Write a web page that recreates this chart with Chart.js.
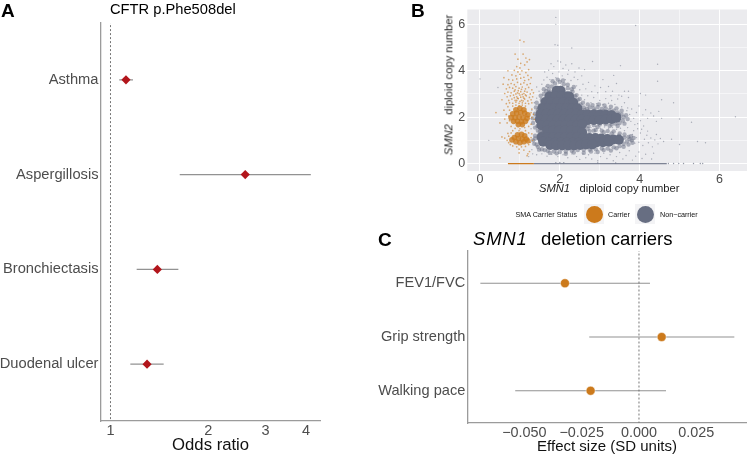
<!DOCTYPE html>
<html>
<head>
<meta charset="utf-8">
<title>CFTR and SMN1 panels</title>
<script src="https://cdn.jsdelivr.net/npm/chart.js@4"></script>
<style>
  html, body { margin: 0; padding: 0; background: #fff; }
  body { position: relative; width: 747px; height: 454px; overflow: hidden; font-family: "Liberation Sans", sans-serif; }
  canvas { position: absolute; }
  .txt { position: absolute; white-space: pre; line-height: 1; color: #000; }
  .panel { font-weight: bold; font-size: 19px; }
  .key { position: absolute; width: 20px; height: 20px; background: #f3f3f5; }
  .key i { position: absolute; left: 1.5px; top: 1.5px; width: 17px; height: 17px; border-radius: 50%; }
</style>
</head>
<body>
<canvas id="chartA" width="340" height="454" style="left:0;top:0"></canvas>
<canvas id="chartB" width="347" height="190" style="left:400px;top:0"></canvas>
<canvas id="chartC" width="377" height="226" style="left:370px;top:228px"></canvas>

<div class="txt panel" style="left:1px;top:1px">A</div>
<div class="txt" style="left:110px;top:1.5px;font-size:14.7px">CFTR p.Phe508del</div>
<div class="txt panel" style="left:411px;top:1px">B</div>
<div class="txt" style="left:539px;top:183px;font-size:11.2px;color:#222"><i>SMN1</i>   diploid copy number</div>
<div class="txt" style="left:449px;top:85px;font-size:11.2px;color:#222;transform:translate(-50%,-50%) rotate(-90deg)"><i>SMN2</i>   diploid copy number</div>
<div class="txt" style="left:515.5px;top:210.5px;font-size:7.2px;color:#111">SMA Carrier Status</div>
<div class="key" style="left:584px;top:204px"><i style="background:#cc7a1c"></i></div>
<div class="txt" style="left:608px;top:210.5px;font-size:7.2px;color:#111">Carrier</div>
<div class="key" style="left:635px;top:204px"><i style="background:#676e82"></i></div>
<div class="txt" style="left:660px;top:210.5px;font-size:7.2px;color:#111">Non−carrier</div>
<div class="txt panel" style="left:378px;top:229.5px">C</div>
<div class="txt" style="left:473px;top:230px;font-size:18.5px"><i style="letter-spacing:.8px;margin-right:3px">SMN1</i>  deletion carriers</div>

<script>
// Panel A: odds ratios
const oddsLabels = ['Asthma', 'Aspergillosis', 'Bronchiectasis', 'Duodenal ulcer'];
const oddsValues = [1.116, 2.60, 1.394, 1.296];
const oddsLow = [1.064, 1.634, 1.204, 1.151];
const oddsHigh = [1.173, 4.14, 1.618, 1.458];
const oddsTicks = [1, 2, 3, 4];

// Panel C: effect sizes
const effectLabels = ['FEV1/FVC', 'Grip strength', 'Walking pace'];
const effectValues = [-0.0323, 0.0099, -0.0211];
const effectLow = [-0.0692, -0.0217, -0.0540];
const effectHigh = [0.0048, 0.0416, 0.0118];
const effectTicks = [-0.05, -0.025, 0, 0.025];

// Panel B: copy numbers, [SMN1, SMN2]
const nonCarrierCore = [
  [1.92,3.14],[2.02,3.14],
  [1.74,2.9],[1.89,2.9],[2.04,2.9],[2.19,2.9],[2.24,2.88],
  [1.64,2.65],[1.79,2.65],[1.94,2.65],[2.09,2.65],[2.24,2.65],[2.34,2.62],
  [1.57,2.4],[1.72,2.4],[1.87,2.4],[2.02,2.4],[2.17,2.4],[2.32,2.4],[2.44,2.38],
  [1.52,2.15],[1.67,2.15],[1.82,2.15],[1.97,2.15],[2.12,2.15],[2.27,2.15],[2.42,2.15],[2.56,2.12],[2.7,2.12],[2.85,2.12],[3.0,2.12],[3.15,2.1],[3.3,2.08],
  [1.5,1.9],[1.65,1.9],[1.8,1.9],[1.95,1.9],[2.1,1.9],[2.25,1.9],[2.4,1.9],[2.55,1.9],[2.7,1.88],[2.85,1.88],[3.0,1.88],[3.15,1.9],[3.3,1.92],[3.42,1.98],
  [1.54,1.65],[1.69,1.65],[1.84,1.65],[1.99,1.65],[2.14,1.65],[2.29,1.65],[2.44,1.66],[2.56,1.7],
  [1.68,1.42],[1.83,1.42],[1.98,1.42],[2.13,1.42],[2.28,1.42],[2.43,1.4],[2.56,1.34],
  [1.54,1.14],[1.69,1.14],[1.84,1.14],[1.99,1.14],[2.14,1.14],[2.29,1.14],[2.44,1.14],[2.59,1.1],[2.74,1.1],[2.89,1.1],[3.04,1.08],[3.19,1.06],[3.34,1.04],[3.48,1.03],
  [1.58,0.94],[1.73,0.92],[1.88,0.9],[2.03,0.9],[2.18,0.9],[2.33,0.9],[2.48,0.9],[2.63,0.92],[2.78,0.92],[2.93,0.92],[3.08,0.92],[3.23,0.94],
  [1.76,0.8],[1.91,0.78],[2.06,0.78],[2.21,0.78],[2.36,0.78],[2.51,0.8],[2.66,0.82],[2.81,0.82]
];
const nonCarrierHalo = [
  [1.72,3.2],[1.8,3.32],[1.88,3.45],[2.0,3.52],[2.1,3.42],[2.2,3.25],[2.32,3.1],[2.38,2.9],[2.45,2.75],[2.52,2.55],[2.6,2.42],[2.68,2.35],[2.75,2.42],[2.85,2.38],[2.95,2.44],[3.05,2.35],[3.15,2.38],[3.25,2.3],[3.35,2.28],[3.45,2.2],[3.55,2.12],[3.6,2.0],[3.58,1.85],[3.5,1.75],[3.4,1.72],[3.3,1.68],[3.15,1.7],[3.0,1.68],[2.85,1.66],[2.72,1.62],[2.6,1.5],
  [1.6,3.0],[1.55,2.75],[1.5,2.5],[1.45,2.3],[1.38,2.15],[1.32,1.95],[1.33,1.75],[1.38,1.55],[1.45,1.42],[1.55,1.32],[1.38,1.2],[1.33,1.0],[1.36,0.85],[1.45,0.72],[1.55,0.62],[1.7,0.55],[1.85,0.52],[2.0,0.5],[2.15,0.52],[2.3,0.55],[2.45,0.58],[2.6,0.6],[2.75,0.6],[2.9,0.62],[3.05,0.65],[3.2,0.65],[3.35,0.7],[3.5,0.75],[3.6,0.85],[3.68,0.95],[3.75,1.05],[3.72,1.15],[3.62,1.25],[3.5,1.3],[3.35,1.38],[3.2,1.4],[3.05,1.42],[2.9,1.45],[2.75,1.4],
  [1.66,3.12],[1.75,3.08],[2.26,3.02],[2.3,3.2],[1.42,2.05],[1.44,1.62],[1.48,2.4],[1.58,2.55],[2.5,2.35],[2.62,2.3],[2.72,2.24],[2.88,2.28],[3.1,2.26],[3.3,2.2],[3.48,2.12],[3.66,2.08],[3.7,1.92],[3.62,1.72],[3.25,1.62],[3.45,1.62],[2.95,1.58],[2.7,1.5],[2.85,1.42],[3.1,1.35],[3.3,1.3],[3.48,1.2],[3.62,1.12],[3.8,1.0],[3.72,0.82],[3.42,0.66],[3.1,0.58],[2.78,0.52],[2.35,0.48],[1.92,0.44],[1.62,0.58],[1.42,0.82],[1.38,1.08],[2.6,1.38],[2.52,1.5],[1.62,1.4],[1.55,1.48],[1.5,1.38],
  [2.42,2.95],[2.5,2.78],[2.58,2.62],[2.7,2.55],[2.82,2.52],[2.98,2.55],[3.12,2.5],[3.28,2.45],[3.42,2.38],[3.55,2.28],[1.4,2.42],[1.42,2.62],[1.52,2.92],[1.6,3.2],[1.7,3.35],[2.2,3.4],[2.35,3.3],[1.95,3.62],[2.08,3.58],[1.82,3.55],[3.78,1.18],[3.85,1.1],[3.82,0.9],[3.6,0.72],[3.28,0.56],[2.95,0.5],[2.6,0.46],[2.15,0.42],[1.75,0.46],[1.48,0.6]
];
const nonCarrierSparse = [
  [1.9,6.3],[1.9,6.0],[1.88,5.12],[1.95,5.1],[2.3,4.98],[3.9,5.95],[4.45,4.28],[3.52,4.22],[2.82,4.4],[3.72,3.12],[4.02,3.02],[4.85,2.62],[4.55,2.75],[5.0,1.92],[5.3,1.78],[6.4,2.02],[5.45,0.95],[5.65,0.9],[5.0,0.82],[4.8,1.05],[4.45,3.55],[4.15,2.95],[3.35,3.8],
  [1.72,4.02],[1.78,4.3],[1.85,4.18],[1.95,4.42],[2.02,4.38],[2.08,4.1],[2.15,4.25],[2.22,4.02],[2.3,4.3],[2.38,3.95],[2.48,4.12],[1.62,3.95],[1.68,3.72],[1.75,3.62],[1.82,3.88],[1.9,3.7],[1.98,3.95],[2.06,3.78],[2.14,3.62],[2.2,3.85],[2.28,3.58],[2.36,3.72],[2.45,3.62],[2.55,3.78],[2.62,4.05],[1.55,3.42],[1.6,3.6],[1.65,3.32],[2.42,3.35],[2.5,3.18],[2.58,3.42],[2.65,3.22],[2.72,3.5],[2.8,3.1],[2.88,3.35],[2.95,3.05],[3.02,3.28],[3.08,3.62],[3.15,3.1],[3.22,3.32],[3.28,2.92],[3.32,3.12],[3.42,3.45],[3.48,2.95],[2.55,2.95],[2.62,2.75],[2.7,2.92],[2.78,2.62],[2.85,2.85],[2.92,2.58],[3.0,2.72],[3.08,2.55],[3.15,2.8],[3.22,2.6],[3.3,2.72],[3.38,2.55],[3.45,2.78],[3.55,2.45],[3.62,2.62],[3.7,2.4],[3.55,2.9],[3.62,3.12],[3.72,2.85],
  [3.68,2.28],[3.75,2.12],[3.8,2.35],[3.85,1.95],[3.92,2.2],[3.98,2.48],[4.02,1.85],[4.08,2.1],[4.15,2.32],[4.2,1.95],[4.28,2.18],[4.35,2.05],[4.42,1.82],[4.48,2.25],[3.78,1.82],[3.88,1.68],[3.95,1.72],[4.1,1.62],[4.55,1.95],
  [3.82,1.25],[3.88,0.88],[3.92,1.12],[3.98,0.92],[4.02,1.32],[4.08,0.78],[4.12,1.05],[4.18,1.22],[4.22,0.9],[4.28,1.1],[4.32,0.72],[4.38,1.02],[4.42,1.25],[4.46,0.85],[4.52,1.08],[4.6,0.95],[3.85,1.42],[3.95,1.5],[4.05,1.48],[4.2,1.4],
  [1.42,0.38],[1.55,0.42],[1.68,0.32],[1.8,0.4],[1.95,0.3],[2.08,0.38],[2.2,0.25],[2.3,0.42],[2.42,0.3],[2.5,0.18],[2.58,0.42],[2.65,0.25],[2.72,0.38],[2.8,0.2],[2.88,0.45],[2.95,0.12],[3.02,0.3],[3.1,0.45],[3.18,0.22],[3.26,0.38],[3.34,0.12],[3.42,0.3],[3.5,0.48],[3.58,0.2],[3.66,0.35],[3.74,0.55],[3.82,0.15],[3.9,0.32],[3.98,0.5],[4.06,0.22],[4.15,0.4],[4.3,0.2],[4.35,0.45],
  [2.62,1.62],[2.78,1.55],[2.9,1.6],[3.02,1.52],[3.12,1.58],[3.22,1.5],[3.32,1.55],[3.42,1.48],[3.52,1.52],[3.62,1.42],[3.7,1.55],
  [1.28,1.5],[1.3,2.3],[1.36,2.62],[1.42,2.82],[1.48,3.12],[1.42,3.3],[1.3,0.6],[1.32,0.42],[1.22,0.3],[0.22,1.0],[0.45,3.28],[0.0,3.65]
];
const nonCarrierBaseline = [[1.35, 0], [4.68, 0]];
const nonCarrierBaselineDots = [[4.72,0],[4.85,0],[4.98,0],[5.1,0],[5.35,0],[5.52,0],[5.58,0],[2.0,0.05],[1.9,0.04],[2.1,0.04],[2.95,0.03],[3.4,0.03]];

const carrierCore = [
  [0.9,2.32],[1.0,2.38],[1.1,2.32],[0.82,2.15],[0.92,2.18],[1.02,2.2],[1.12,2.18],[1.2,2.1],[0.78,1.98],[0.88,1.98],[0.98,2.0],[1.08,1.98],[1.18,1.95],[0.84,1.82],[0.94,1.82],[1.04,1.8],[1.14,1.82],[0.96,1.68],[1.06,1.68],
  [0.94,1.24],[1.04,1.26],[1.12,1.2],[0.86,1.12],[0.96,1.08],[1.06,1.06],[1.16,1.06],[0.9,0.94],[1.0,0.9],[1.1,0.94],[0.8,1.02],[1.2,0.98]
];
const carrierDots = [
  [1.0,5.32],[1.1,5.25],[1.15,4.55],[1.08,4.72],[0.95,4.5],[0.88,4.72],[1.02,4.32],[0.92,4.18],[1.0,4.12],[1.12,4.25],[1.18,4.38],[1.24,4.48],[0.86,4.02],[0.95,3.95],[1.05,4.0],[1.15,3.92],[1.22,4.05],[0.8,3.82],[0.9,3.78],[1.0,3.85],[1.1,3.72],[1.2,3.8],[1.28,3.7],[0.72,3.62],[0.82,3.6],[0.92,3.65],[1.02,3.68],[1.12,3.58],[1.22,3.62],[0.7,3.4],[0.78,3.45],[0.86,3.4],[0.94,3.5],[1.02,3.42],[1.1,3.48],[1.18,3.4],[1.26,3.45],[0.66,3.22],[0.74,3.28],[0.82,3.25],[0.9,3.32],[0.98,3.25],[1.06,3.3],[1.14,3.22],[1.22,3.28],[1.3,3.18],
  [0.62,3.02],[0.7,3.08],[0.78,3.05],[0.86,3.12],[0.94,3.05],[1.02,3.1],[1.1,3.02],[1.18,3.08],[1.26,3.0],[1.34,3.05],[0.68,2.88],[0.76,2.92],[0.84,2.95],[0.92,2.88],[1.0,2.95],[1.08,2.88],[1.16,2.92],[1.24,2.85],[1.32,2.88],[0.72,2.72],[0.8,2.78],[0.88,2.72],[0.96,2.8],[1.04,2.72],[1.12,2.78],[1.2,2.7],[1.28,2.75],[0.66,2.58],[0.74,2.62],[0.82,2.6],[0.9,2.65],[0.98,2.6],[1.06,2.62],[1.14,2.6],[1.22,2.58],[1.3,2.62],
  [0.88,3.18],[0.96,3.14],[1.04,3.2],[1.12,3.12],[0.9,3.0],[0.98,3.02],[1.06,2.98],[1.14,2.96],[0.86,2.84],[0.94,2.82],[1.02,2.86],[1.1,2.82],[0.92,2.72],[1.0,2.68],[1.08,2.7],[0.9,2.52],[0.98,2.5],[1.06,2.52],[1.14,2.48],[0.82,2.48],
  [0.6,2.3],[0.66,2.12],[0.62,1.92],[0.68,1.75],[0.7,2.45],[0.74,2.3],[0.72,2.05],[0.74,1.85],[1.3,2.35],[1.34,2.12],[1.36,1.9],[1.28,1.7],[1.28,2.2],[1.3,1.98],[0.78,1.6],[0.88,1.52],[1.0,1.5],[1.12,1.55],[1.22,1.6],[0.82,1.42],[0.98,1.42],[1.14,1.42],[0.7,1.3],[0.78,1.32],[1.22,1.32],[1.3,1.28],
  [0.62,1.1],[0.68,1.0],[0.72,1.18],[0.72,0.9],[0.76,0.82],[1.28,1.12],[1.32,1.0],[1.26,0.92],[1.22,0.82],[0.82,0.76],[0.92,0.72],[1.04,0.72],[1.14,0.74],[0.98,0.62],[1.1,0.58],[1.24,0.52],[1.2,0.42],[1.18,0.34],[0.5,0.25],[0.98,0.46],[0.4,2.2],[0.5,1.75],[0.55,2.75],[0.58,3.42],[0.55,1.15],[0.6,3.7],[0.7,4.0]
];
const carrierBaseline = [[0.7, 0], [1.35, 0]];

const inkGrey = '#4d4d4d';
const axisGrey = '#9b9b9b';
const barGrey = 'rgba(110,110,110,0.75)';
const carrierColor = '#cc7a1c';
const nonCarrierColor = '#676e82';

Chart.defaults.font.family = '"Liberation Sans", sans-serif';
Chart.defaults.animation = false;
Chart.defaults.layout.autoPadding = false;

const toPoints = pairs => pairs.map(p => ({ x: p[0], y: p[1] }));

// rows of a forest plot: dots on top, then bars, dashed reference underneath
function forestDatasets(labels, values, low, high, refX, pointOpts) {
  const sets = [{
    data: values.map((v, i) => ({ x: v, y: i + 1 })),
    showLine: false,
    ...pointOpts
  }];
  labels.forEach((name, i) => {
    sets.push({
      label: name,
      data: [{ x: low[i], y: i + 1 }, { x: high[i], y: i + 1 }],
      showLine: true, pointRadius: 0, borderColor: barGrey, borderWidth: 1.2
    });
  });
  sets.push({
    data: [{ x: refX, y: 0 }, { x: refX, y: labels.length + 1 }],
    showLine: true, pointRadius: 0, borderColor: '#777', borderWidth: 1, borderDash: [2, 2]
  });
  return sets;
}

function forestY(labels, axisWidth, fontSize) {
  return {
    type: 'linear', reverse: true, min: 0.4, max: labels.length + 0.6,
    grid: { display: false, drawTicks: false },
    border: { color: axisGrey, width: 1.3 },
    afterBuildTicks: s => { s.ticks = labels.map((_, i) => ({ value: i + 1 })); },
    afterFit: s => { s.width = axisWidth; },
    ticks: { color: inkGrey, font: { size: fontSize }, padding: 2, autoSkip: false, callback: v => labels[v - 1] }
  };
}

const noExtras = { legend: { display: false }, tooltip: { enabled: false } };

new Chart(document.getElementById('chartA'), {
  type: 'scatter',
  data: { datasets: forestDatasets(oddsLabels, oddsValues, oddsLow, oddsHigh, 1, {
    pointStyle: 'rectRot', pointRadius: 4.6, backgroundColor: '#b2151b', borderWidth: 0 }) },
  options: {
    responsive: false,
    layout: { padding: { top: 23, right: 19.3, left: 0, bottom: 0 } },
    plugins: noExtras,
    scales: {
      x: {
        type: 'logarithmic', min: 0.9316, max: 4.44,
        grid: { display: false, drawTicks: false },
        border: { color: axisGrey, width: 1.3 },
        afterBuildTicks: s => { s.ticks = oddsTicks.map(v => ({ value: v })); },
        afterFit: s => { s.height = 33; },
        ticks: { color: inkGrey, font: { size: 14.5 }, padding: 1, maxRotation: 0, autoSkip: false, callback: v => String(v) },
        title: { display: true, text: 'Odds ratio', color: '#111', font: { size: 16.7, lineHeight: 1 }, padding: { top: 1, bottom: 0 } }
      },
      y: forestY(oddsLabels, 100.5, 14.7)
    }
  }
});

// grey ggplot-style panel behind the points
const panelFill = {
  id: 'panelFill',
  beforeDraw(chart) {
    const a = chart.chartArea;
    chart.ctx.save();
    chart.ctx.fillStyle = '#ebebee';
    chart.ctx.fillRect(a.left, a.top, a.width, a.height);
    chart.ctx.restore();
  }
};
const gridFor = ctx => (ctx.tick && ctx.tick.value % 2 === 0) ? '#ffffff' : 'rgba(255,255,255,0.5)';

new Chart(document.getElementById('chartB'), {
  type: 'scatter',
  data: { datasets: [
    { data: toPoints(carrierCore), pointRadius: 2.8, backgroundColor: 'rgba(204,122,28,0.8)', borderWidth: 0 },
    { data: toPoints(carrierDots), pointRadius: 0.85, backgroundColor: 'rgba(204,122,28,0.6)', borderWidth: 0 },
    { data: toPoints(carrierBaseline), showLine: true, pointRadius: 0, borderColor: carrierColor, borderWidth: 1.3 },
    { data: toPoints(nonCarrierCore), pointRadius: 5, backgroundColor: nonCarrierColor, borderWidth: 0 },
    { data: toPoints(nonCarrierHalo), pointRadius: 2.2, backgroundColor: 'rgba(103,110,130,0.5)', borderWidth: 0 },
    { data: toPoints(nonCarrierSparse), pointRadius: 0.7, backgroundColor: 'rgba(103,110,130,0.5)', borderWidth: 0 },
    { data: toPoints(nonCarrierBaseline), showLine: true, pointRadius: 0, borderColor: 'rgba(103,110,130,0.85)', borderWidth: 1.3 },
    { data: toPoints(nonCarrierBaselineDots), pointRadius: 0.7, backgroundColor: 'rgba(103,110,130,0.7)', borderWidth: 0 }
  ] },
  plugins: [panelFill],
  options: {
    responsive: false,
    layout: { padding: { top: 3.3, right: 0, left: 0, bottom: 0 } },
    plugins: noExtras,
    scales: {
      x: {
        min: -0.318, max: 6.69,
        border: { display: false },
        grid: { color: gridFor, lineWidth: 1, drawTicks: false },
        afterBuildTicks: s => { s.ticks = [0, 1, 2, 3, 4, 5, 6].map(v => ({ value: v })); },
        afterFit: s => { s.height = 190 - 171; },
        ticks: { color: inkGrey, font: { size: 12.5 }, padding: 1, maxRotation: 0, autoSkip: false, callback: v => v % 2 === 0 ? String(v) : '' }
      },
      y: {
        min: -0.32, max: 6.64,
        border: { display: false },
        grid: { color: gridFor, lineWidth: 1, drawTicks: false },
        afterBuildTicks: s => { s.ticks = [0, 1, 2, 3, 4, 5, 6].map(v => ({ value: v })); },
        afterFit: s => { s.width = 67.3; },
        ticks: { color: inkGrey, font: { size: 12.5 }, padding: 2, autoSkip: false, callback: v => v % 2 === 0 ? String(v) : '' }
      }
    }
  }
});

new Chart(document.getElementById('chartC'), {
  type: 'scatter',
  data: { datasets: forestDatasets(effectLabels, effectValues, effectLow, effectHigh, 0, {
    pointStyle: 'circle', pointRadius: 4.5, backgroundColor: carrierColor, borderWidth: 0.8, borderColor: 'rgba(255,255,255,0.6)' }) },
  options: {
    responsive: false,
    layout: { padding: { top: 23, right: 0.3, left: 0, bottom: 0 } },
    plugins: noExtras,
    scales: {
      x: {
        min: -0.0749, max: 0.047,
        grid: { display: false, drawTicks: false },
        border: { color: axisGrey, width: 1.3 },
        afterBuildTicks: s => { s.ticks = effectTicks.map(v => ({ value: v })); },
        afterFit: s => { s.height = 31; },
        ticks: { color: inkGrey, font: { size: 14.4 }, padding: 1, maxRotation: 0, autoSkip: false, callback: v => v.toFixed(3).replace('-', '−') },
        title: { display: true, text: 'Effect size (SD units)', color: '#111', font: { size: 15, lineHeight: 1 }, padding: { top: 0, bottom: 0 } }
      },
      y: forestY(effectLabels, 97.3, 14.6)
    }
  }
});
</script>
</body>
</html>
